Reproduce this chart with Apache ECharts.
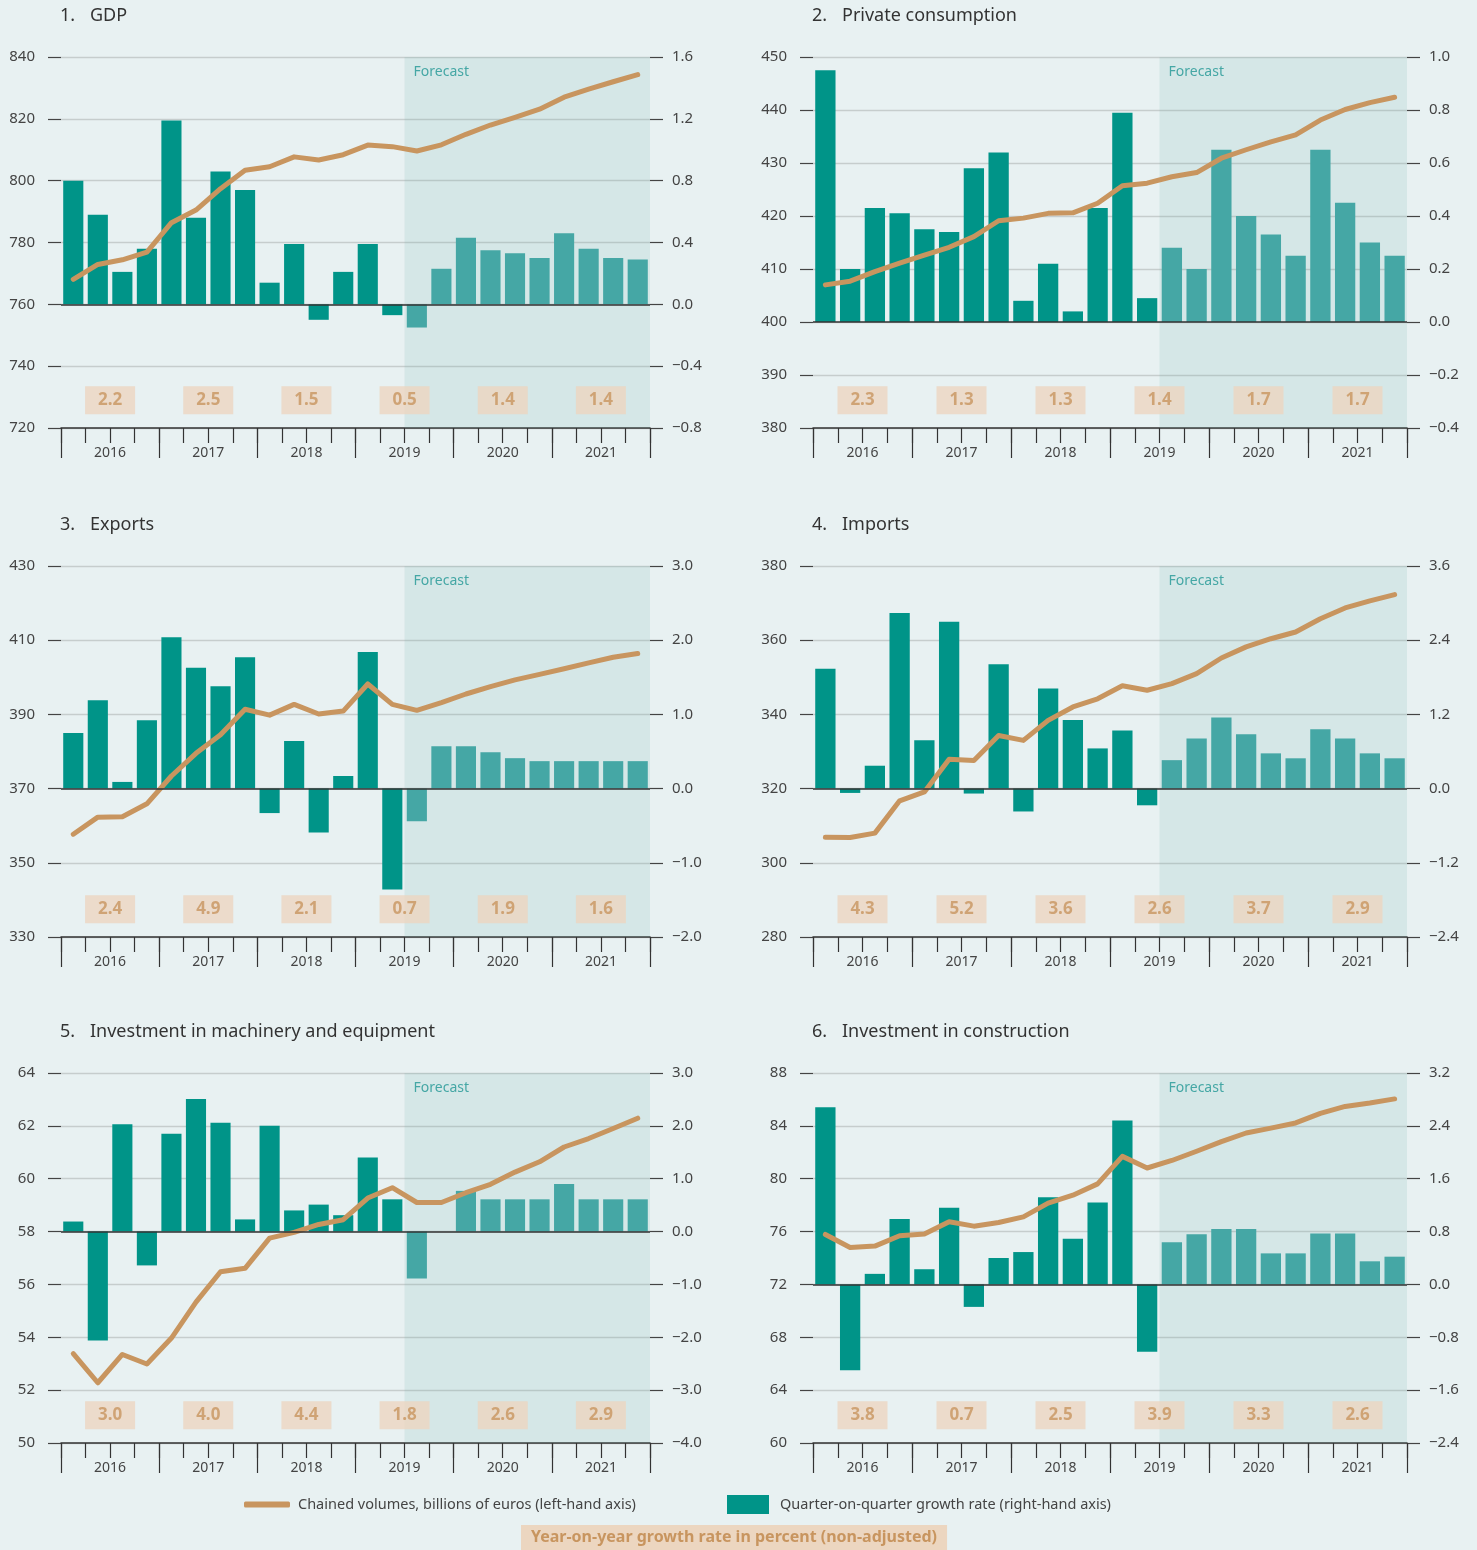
<!DOCTYPE html>
<html>
<head>
<meta charset="utf-8">
<title>Forecast panels</title>
<script src="https://cdn.jsdelivr.net/npm/echarts@6/dist/echarts.min.js"></script>
<style>
  html, body { margin: 0; padding: 0; background: #e8f1f2; }
  #chart { width: 1477px; height: 1550px; }
</style>
</head>
<body>
<div id="chart"></div>
<script>
// categories
const years = ['2016', '2017', '2018', '2019', '2020', '2021'];
const quarterNames = ['Q1', 'Q2', 'Q3', 'Q4'];
const quarters = [];
years.forEach(y => quarterNames.forEach(q => quarters.push(y + ' ' + q)));
const forecastFrom = '2019 Q3';

// 1. GDP
const gdpVolume = [768.1, 772.9, 774.4, 776.9, 786.4, 790.5, 797.4, 803.4, 804.5, 807.7, 806.7, 808.4,
  811.5, 811.0, 809.6, 811.6, 815.0, 818.0, 820.5, 823.1, 827.0, 829.6, 832.0, 834.3];
const gdpGrowth = [0.80, 0.58, 0.21, 0.36, 1.19, 0.56, 0.86, 0.74, 0.14, 0.39, -0.10, 0.21,
  0.39, -0.07, -0.15, 0.23, 0.43, 0.35, 0.33, 0.30, 0.46, 0.36, 0.30, 0.29];
const gdpYoy = [2.2, 2.5, 1.5, 0.5, 1.4, 1.4];

// 2. Private consumption
const consVolume = [407.0, 407.7, 409.5, 411.1, 412.6, 414.1, 416.1, 419.1, 419.6, 420.5, 420.6, 422.4,
  425.7, 426.2, 427.4, 428.2, 430.9, 432.5, 434.0, 435.3, 438.1, 440.1, 441.4, 442.4];
const consGrowth = [0.95, 0.20, 0.43, 0.41, 0.35, 0.34, 0.58, 0.64, 0.08, 0.22, 0.04, 0.43,
  0.79, 0.09, 0.28, 0.20, 0.65, 0.40, 0.33, 0.25, 0.65, 0.45, 0.30, 0.25];
const consYoy = [2.3, 1.3, 1.3, 1.4, 1.7, 1.7];

// 3. Exports
const expVolume = [357.7, 362.3, 362.4, 365.9, 373.4, 379.5, 384.5, 391.4, 389.8, 392.7, 390.1, 390.9,
  398.2, 392.7, 391.1, 393.2, 395.5, 397.5, 399.3, 400.8, 402.3, 403.9, 405.4, 406.4];
const expGrowth = [0.75, 1.19, 0.09, 0.92, 2.04, 1.63, 1.38, 1.77, -0.33, 0.64, -0.59, 0.17,
  1.84, -1.36, -0.44, 0.57, 0.57, 0.49, 0.41, 0.37, 0.37, 0.37, 0.37, 0.37];
const expYoy = [2.4, 4.9, 2.1, 0.7, 1.9, 1.6];

// 4. Imports
const impVolume = [306.9, 306.8, 308.0, 316.7, 319.1, 327.9, 327.6, 334.3, 333.0, 338.4, 342.0, 344.2,
  347.7, 346.5, 348.3, 351.0, 355.2, 358.2, 360.4, 362.2, 365.8, 368.7, 370.6, 372.3];
const impGrowth = [1.94, -0.07, 0.37, 2.84, 0.78, 2.70, -0.08, 2.01, -0.37, 1.62, 1.11, 0.65,
  0.94, -0.27, 0.46, 0.81, 1.15, 0.88, 0.57, 0.49, 0.96, 0.81, 0.57, 0.49];
const impYoy = [4.3, 5.2, 3.6, 2.6, 3.7, 2.9];

// 5. Investment in machinery and equipment
const machVolume = [53.38, 52.28, 53.35, 52.99, 53.97, 55.33, 56.48, 56.61, 57.75, 57.97, 58.27, 58.45,
  59.27, 59.66, 59.10, 59.10, 59.47, 59.79, 60.25, 60.64, 61.20, 61.52, 61.90, 62.29];
const machGrowth = [0.19, -2.06, 2.03, -0.64, 1.85, 2.51, 2.06, 0.23, 2.00, 0.40, 0.51, 0.31,
  1.40, 0.61, -0.89, 0.00, 0.77, 0.61, 0.61, 0.61, 0.90, 0.61, 0.61, 0.61];
const machYoy = [3.0, 4.0, 4.4, 1.8, 2.6, 2.9];

// 6. Investment in construction
const constVolume = [75.78, 74.79, 74.90, 75.68, 75.81, 76.74, 76.41, 76.69, 77.11, 78.15, 78.75, 79.61,
  81.69, 80.81, 81.38, 82.08, 82.81, 83.46, 83.83, 84.22, 84.95, 85.47, 85.73, 86.04];
const constGrowth = [2.68, -1.30, 0.16, 0.99, 0.23, 1.16, -0.34, 0.40, 0.49, 1.32, 0.69, 1.24,
  2.48, -1.02, 0.64, 0.76, 0.84, 0.84, 0.47, 0.47, 0.77, 0.77, 0.35, 0.42];
const constYoy = [3.8, 0.7, 2.5, 3.9, 3.3, 2.6];

// axis ranges [min, max, interval]
const panels = [
  { title: 'GDP', volume: gdpVolume, growth: gdpGrowth, yoy: gdpYoy, leftAxis: [720, 840, 20], rightAxis: [-0.8, 1.6, 0.4] },
  { title: 'Private consumption', volume: consVolume, growth: consGrowth, yoy: consYoy, leftAxis: [380, 450, 10], rightAxis: [-0.4, 1.0, 0.2] },
  { title: 'Exports', volume: expVolume, growth: expGrowth, yoy: expYoy, leftAxis: [330, 430, 20], rightAxis: [-2.0, 3.0, 1.0] },
  { title: 'Imports', volume: impVolume, growth: impGrowth, yoy: impYoy, leftAxis: [280, 380, 20], rightAxis: [-2.4, 3.6, 1.2] },
  { title: 'Investment in machinery and equipment', volume: machVolume, growth: machGrowth, yoy: machYoy, leftAxis: [50, 64, 2], rightAxis: [-4.0, 3.0, 1.0] },
  { title: 'Investment in construction', volume: constVolume, growth: constGrowth, yoy: constYoy, leftAxis: [60, 88, 4], rightAxis: [-2.4, 3.2, 0.8] }
];

const layout = [
  { x: 61, y: 57, w: 589, h: 371 },
  { x: 813, y: 57, w: 594, h: 371 },
  { x: 61, y: 566, w: 589, h: 371 },
  { x: 813, y: 566, w: 594, h: 371 },
  { x: 61, y: 1073, w: 589, h: 370 },
  { x: 813, y: 1073, w: 594, h: 370 }
];

const LINE_NAME = 'Chained volumes, billions of euros (left-hand axis)';
const BAR_NAME = 'Quarter-on-quarter growth rate (right-hand axis)';
const TEAL = '#009488';
const TEAL_LIGHT = '#45a7a5';
const TAN = '#c8955f';
const BOX = '#ecd6c0';
const TEXT = '#444';
const FONT = "'Noto Sans', 'Open Sans', sans-serif";
const NARROW = "'Liberation Sans Narrow', 'Noto Sans', sans-serif";

const fIdx = quarters.indexOf(forecastFrom);
const fmtRight = v => (v < -1e-9 ? '\u2212' + Math.abs(v).toFixed(1) : Math.abs(v).toFixed(1));

const grid = [], xAxis = [], yAxis = [], series = [], title = [];

panels.forEach((p, i) => {
  const L = layout[i];
  grid.push({ left: L.x, top: L.y, width: L.w, height: L.h, containLabel: false, outerBoundsMode: 'none' });

  const head = { fontSize: 18, fontWeight: 'normal', color: '#333', fontFamily: FONT };
  title.push({
    text: '{n|' + (i + 1) + '.}{t|' + p.title + '}',
    left: L.x - 1, top: L.y - 50, padding: 0,
    textStyle: { fontWeight: 'normal', rich: { n: Object.assign({ width: 30 }, head), t: head } }
  });

  // quarter axis
  xAxis.push({
    gridIndex: i, type: 'category', data: quarters, position: 'bottom', boundaryGap: true,
    axisLine: { show: true, onZero: false, lineStyle: { color: '#333', width: 1.5 } },
    axisTick: { show: true, interval: 0, length: 15, lineStyle: { color: '#333', width: 1.2 } },
    axisLabel: { show: false }, splitLine: { show: false }
  });
  // year axis
  xAxis.push({
    gridIndex: i, type: 'category', data: years, position: 'bottom', boundaryGap: true,
    axisLine: { show: false, onZero: false },
    axisTick: { show: true, interval: 0, length: 30, lineStyle: { color: '#333', width: 1.2 } },
    axisLabel: { interval: 0, margin: 18, fontSize: 14, color: TEXT, fontFamily: FONT },
    splitLine: { show: false }
  });

  yAxis.push({
    gridIndex: i, type: 'value', position: 'left',
    min: p.leftAxis[0], max: p.leftAxis[1], interval: p.leftAxis[2],
    axisLine: { show: false },
    axisTick: { show: true, length: 13, lineStyle: { color: TEXT, width: 1.2 } },
    axisLabel: { margin: 26, fontSize: 15, color: TEXT, fontFamily: FONT },
    splitLine: { show: true, lineStyle: { color: '#c6cdcd', width: 1.3 } }
  });
  yAxis.push({
    gridIndex: i, type: 'value', position: 'right',
    min: p.rightAxis[0], max: p.rightAxis[1], interval: p.rightAxis[2],
    axisLine: { show: false },
    axisTick: { show: true, length: 13, lineStyle: { color: TEXT, width: 1.2 } },
    axisLabel: { margin: 22, fontSize: 15, color: TEXT, fontFamily: FONT, formatter: fmtRight },
    splitLine: { show: false }
  });

  series.push({
    name: BAR_NAME, type: 'bar', xAxisIndex: 2 * i, yAxisIndex: 2 * i + 1,
    barCategoryGap: '18%', itemStyle: { color: TEAL },
    data: p.growth.map((v, k) => ({ value: v, itemStyle: { color: k >= fIdx ? TEAL_LIGHT : TEAL } })),
    markArea: {
      silent: true,
      itemStyle: { color: 'rgba(105,174,168,0.15)' },
      label: { show: true, position: 'insideTopLeft', formatter: 'Forecast', color: TEAL_LIGHT, fontSize: 14, fontFamily: FONT, distance: 6, offset: [3, 2] },
      data: [[{ xAxis: forecastFrom }, { xAxis: quarters[quarters.length - 1] }]]
    },
    markLine: {
      silent: true, symbol: ['none', 'none'], label: { show: false },
      lineStyle: { color: '#333', width: 1.5, type: 'solid' },
      data: [{ yAxis: 0 }]
    }
  });

  series.push({
    name: LINE_NAME, type: 'line', xAxisIndex: 2 * i, yAxisIndex: 2 * i, z: 4,
    data: p.volume, symbol: 'none', color: TAN,
    itemStyle: { color: TAN },
    lineStyle: { color: TAN, width: 5, cap: 'round', join: 'round' }
  });

  const lo = p.leftAxis[0], hi = p.leftAxis[1];
  series.push({
    type: 'scatter', xAxisIndex: 2 * i + 1, yAxisIndex: 2 * i, z: 3, silent: true,
    symbol: 'rect', symbolSize: [50, 28], itemStyle: { color: BOX },
    label: { show: true, position: 'inside', formatter: '{b}', color: TAN, fontWeight: 'bold', fontSize: 17, fontFamily: NARROW },
    data: p.yoy.map((v, k) => ({ name: v.toFixed(1), value: [years[k], lo + 0.075 * (hi - lo)] }))
  });
});

title.push({
  text: 'Year-on-year growth rate in percent (non-adjusted)',
  left: 521, top: 1525, padding: [4, 10, 5, 10], backgroundColor: BOX,
  textStyle: { fontSize: 16, fontWeight: 'bold', color: TAN, fontFamily: NARROW }
});

const option = {
  backgroundColor: '#e8f1f2',
  animation: false,
  textStyle: { fontFamily: FONT },
  title: title,
  legend: [
    { left: 244, top: 1497, padding: 0, itemWidth: 46, itemHeight: 6, icon: 'roundRect', selectedMode: false,
      data: [LINE_NAME], textStyle: { fontSize: 14.5, color: TEXT, fontFamily: NARROW, padding: [0, 0, 0, 3] } },
    { left: 727, top: 1495, padding: 0, itemWidth: 42, itemHeight: 19, icon: 'rect', selectedMode: false,
      data: [BAR_NAME], textStyle: { fontSize: 14.5, color: TEXT, fontFamily: NARROW, padding: [0, 0, 0, 6] } }
  ],
  grid: grid,
  xAxis: xAxis,
  yAxis: yAxis,
  series: series
};

const chart = echarts.init(document.getElementById('chart'), null, { renderer: 'canvas' });
chart.setOption(option);
window.addEventListener('resize', () => chart.resize());
</script>
</body>
</html>
